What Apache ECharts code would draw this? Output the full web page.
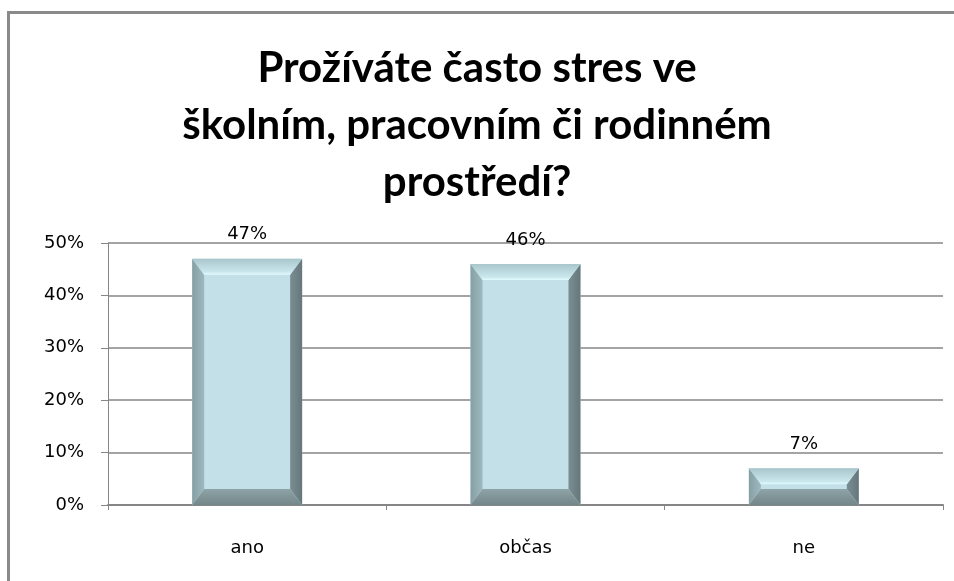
<!DOCTYPE html>
<html><head><meta charset="utf-8">
<script src="https://cdn.jsdelivr.net/npm/echarts@6/dist/echarts.min.js"></script>
<style>html,body{margin:0;padding:0;background:#fff}#c{width:954px;height:581px}</style>
</head><body><div id="c"></div>
<script>
const titleLines = ['Prožíváte často stres ve', 'školním, pracovním či rodinném', 'prostředí?'];
const categories = ['ano', 'občas', 'ne'];
const values = [47, 46, 7];
const yMin = 0, yMax = 50, yInterval = 10;

const chart = echarts.init(document.getElementById('c'));
const TFONT = 'Lato';
const FONT = 'DejaVu Sans';

function renderItem(params, api) {
  const idx = api.value(0), v = api.value(1);
  const top = api.coord([idx, v]);
  const base = api.coord([idx, 0]);
  const bw = api.size([1, 0])[0] * 0.395;
  const x0 = top[0] - bw / 2, x1 = top[0] + bw / 2, y0 = top[1], y1 = base[1];
  const h = y1 - y0;
  const bx = 12, by = Math.min(16, h / 2);
  const ix0 = x0 + bx, ix1 = x1 - bx, iy0 = y0 + by, iy1 = y1 - by;
  const poly = (pts, fill) => ({ type: 'polygon', shape: { points: pts }, style: { fill: fill, stroke: null } });
  const children = [
    poly([[x0, y0], [x1, y0], [x1, y1], [x0, y1]], '#c3e0e8'),
    poly([[x0, y0], [ix0, iy0], [ix0, iy1], [x0, y1]], new echarts.graphic.LinearGradient(0, 0, 1, 0, [{offset: 0, color: '#869fa5'}, {offset: 1, color: '#9db9bf'}])),
    poly([[x1, y0], [x1, y1], [ix1, iy1], [ix1, iy0]], new echarts.graphic.LinearGradient(0, 0, 1, 0, [{offset: 0, color: '#7a8e92'}, {offset: 1, color: '#66777b'}])),
    poly([[x0, y0], [x1, y0], [ix1, iy0], [ix0, iy0]], new echarts.graphic.LinearGradient(0, 0, 0, 1, [{offset: 0, color: '#a9c6cc'}, {offset: 0.8, color: '#c8e6ec'}, {offset: 1, color: '#e2fbff'}])),
    poly([[x0, y1], [ix0, iy1], [ix1, iy1], [x1, y1]], new echarts.graphic.LinearGradient(0, 0, 0, 1, [{offset: 0, color: '#8fa4a8'}, {offset: 1, color: '#738689'}])),
    { type: 'text', style: { text: v + '%', x: top[0], y: y0 - 15, align: 'center', verticalAlign: 'bottom', font: '18px "' + FONT + '"', fill: '#000' } }
  ];
  return { type: 'group', children: children };
}

chart.setOption({
  animation: false,
  backgroundColor: '#fff',
  title: {
    text: titleLines.join('\n'),
    left: 'center', top: 35,
    textStyle: { fontFamily: TFONT, fontWeight: 'bold', fontSize: 42, lineHeight: 57, color: '#000' }
  },
  graphic: [{
    type: 'rect', shape: { x: 8.5, y: 12.5, width: 960, height: 600 },
    style: { fill: null, stroke: '#8a8a8a', lineWidth: 3 }, silent: true
  }],
  grid: { left: 108, right: 11, top: 243, bottom: 76, containLabel: false },
  xAxis: {
    type: 'category', data: categories,
    axisLine: { lineStyle: { color: '#868686', width: 2 } },
    axisTick: { show: true, length: 5, lineStyle: { color: '#868686' } },
    axisLabel: { fontFamily: FONT, fontSize: 18, color: '#000', margin: 34 }
  },
  yAxis: {
    type: 'value', min: yMin, max: yMax, interval: yInterval,
    axisLine: { show: true, lineStyle: { color: '#868686' } },
    axisTick: { show: true, length: 7, lineStyle: { color: '#868686' } },
    axisLabel: { formatter: '{value}%', fontFamily: FONT, fontSize: 18, color: '#000', margin: 24 },
    splitLine: { lineStyle: { color: '#868686', width: 1.5 } }
  },
  series: [{
    type: 'custom', renderItem: renderItem,
    data: values.map((v, i) => [i, v]),
    encode: { x: 0, y: 1 }
  }]
});
</script></body></html>
